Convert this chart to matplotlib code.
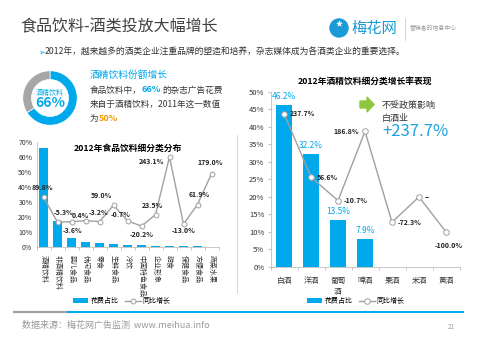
import matplotlib
matplotlib.use("Agg")
import matplotlib.pyplot as plt
from matplotlib.patches import Polygon, Ellipse
from matplotlib.lines import Line2D

plt.rcParams['font.family'] = ['Noto Sans CJK SC', 'DejaVu Sans']

# 数据
food_cats = ['酒精饮料', '非酒精饮料', '婴儿食品', '休闲食品', '零食', '生鲜食品', '冷饮',
             '中国特色食品', '企业形象', '甜食', '保健食品', '方便食品', '蔬菜水果']
food_share = [66.0, 17.3, 5.9, 3.6, 2.8, 2.0, 1.4, 1.4, 0.9, 0.5, 0.4, 0.4, 0.2]
food_growth = [89.8, -5.3, -3.6, 0.4, -3.2, 59.0, -0.7, -20.2, 23.5, 243.1, -13.0, 61.9, 179.0]

wine_cats = ['白酒', '洋酒', '葡萄\n酒', '啤酒', '果酒', '米酒', '黄酒']
wine_share = [46.2, 32.2, 13.5, 7.9, 0.1, 0.0, 0.0]
wine_growth = [237.7, 56.6, -10.7, 186.8, -72.3, 0.0, -100.0]
wine_growth_text = ['237.7%', '56.6%', '-10.7%', '186.8%', '-72.3%', '--', '-100.0%']

donut_vals = [66, 34]

BLUE = '#00a9ec'
GRAY = '#a6a6a6'

W, H = 480, 343
def fx(x):
    return x / W
def fy(y):
    return 1 - y / H

fig = plt.figure(figsize=(4.8, 3.43), dpi=100)
fig.patch.set_facecolor('white')

# 标题和logo
fig.text(fx(20), fy(27), '食品饮料-酒类投放大幅增长', fontsize=11.5, color='#404040', va='center')
fig.add_artist(Ellipse((fx(339), fy(28)), 18 / W, 18 / H, color='#1a9ad6', transform=fig.transFigure))
fig.text(fx(339), fy(28), '*', fontsize=10, color='white', ha='center', va='center', fontweight='bold')
fig.text(fx(351), fy(28), '梅花网', fontsize=11, color='#1a9ad6', va='center')
fig.add_artist(Line2D([fx(405), fx(405)], [fy(18), fy(40)], color='#cccccc', lw=0.6))
fig.text(fx(410), fy(28), '营销者的信息中心', fontsize=4.2, color='#999999', va='center')

fig.text(fx(38), fy(52), '➢', fontsize=6, color=BLUE, va='center', family=['DejaVu Sans'])
fig.text(fx(45), fy(52), '2012年，越来越多的酒类企业注重品牌的塑造和培养，杂志媒体成为各酒类企业的重要选择。',
         fontsize=6.3, color='#333333', va='center')

# 环形图
dax = fig.add_axes([fx(50 - 34), fy(98 + 34), 68 / W, 68 / H])
dax.pie(donut_vals, startangle=90, counterclock=False, colors=[BLUE, GRAY],
        wedgeprops=dict(width=0.32, edgecolor='white', linewidth=0.5))
dax.set_aspect('equal')
dax.text(0, 0.17, '酒精饮料', fontsize=5, color=BLUE, ha='center', va='center')
dax.text(0, -0.2, '66%', fontsize=10, color=BLUE, ha='center', va='center', fontweight='bold')

fig.text(fx(90), fy(75), '酒精饮料份额增长', fontsize=7, color=BLUE, va='center')
fig.text(fx(90), fy(90), '食品饮料中，', fontsize=6.2, color='#333333', va='center')
fig.text(fx(142), fy(90), '66%', fontsize=6.4, color=BLUE, va='center', fontweight='bold')
fig.text(fx(162), fy(90), '的杂志广告花费', fontsize=6.2, color='#333333', va='center')
fig.text(fx(90), fy(104), '来自于酒精饮料，2011年这一数值', fontsize=6.2, color='#333333', va='center')
fig.text(fx(90), fy(118), '为', fontsize=6.2, color='#333333', va='center')
fig.text(fx(99), fy(118), '50%', fontsize=6.4, color='#f39800', va='center', fontweight='bold')

# 左图
ax1 = fig.add_axes([fx(36.5), fy(247), 182 / W, 105 / H])
x1 = list(range(len(food_cats)))
bars1 = ax1.bar(x1, food_share, width=0.64, color=BLUE)
ax1.set_xlim(-0.5, len(food_cats) - 0.5)
ax1.set_ylim(0, 70)
ax1.set_yticks(range(0, 71, 10))
ax1.set_yticklabels(['{}%'.format(v) for v in range(0, 71, 10)], fontsize=5, color='#333333')
ax1.set_xticks(x1)
ax1.set_xticklabels(food_cats, rotation=-90, fontsize=5, color='#333333', va='top')
ax1.set_xticks([i - 0.5 for i in range(len(food_cats) + 1)], minor=True)
ax1.tick_params(axis='x', which='major', length=0, pad=6)
ax1.tick_params(axis='x', which='minor', length=2.5, color='#bfbfbf')
ax1.tick_params(axis='y', length=0, pad=3)
for s in ['top', 'right']:
    ax1.spines[s].set_visible(False)
ax1.spines['left'].set_color('#bfbfbf')
ax1.spines['bottom'].set_color('#bfbfbf')
ax1.spines['left'].set_linewidth(0.6)
ax1.spines['bottom'].set_linewidth(0.6)

t1 = ax1.twinx()
t1.set_ylim(-100, 300)
line1, = t1.plot(x1, food_growth, color='#a0a0a0', lw=1, marker='o', ms=3.5,
                 mfc='white', mec='#a0a0a0', mew=0.7)
t1.axis('off')
off1 = [(-1, 7), (4, 7), (1, -6.5), (-4, 3.5), (-0.5, 6.5), (-9, 7), (-5, 4.5), (0, -6),
        (-2, 6.5), (-13, -3), (0, -4.5), (1, 7), (-1, 8)]
for xi, v, o in zip(x1, food_growth, off1):
    t1.annotate('{:.1f}%'.format(v), (xi, v), xytext=o, textcoords='offset points',
                fontsize=5, fontweight='bold', ha='center', va='center', color='#222222')
ax1.set_title('2012年食品饮料细分类分布', fontsize=6.3, fontweight='bold', pad=-4, y=0.97)
ax1.legend([bars1, line1], ['花费占比', '同比增长'], loc='center', ncol=2,
           bbox_to_anchor=(fx(122), fy(301)), bbox_transform=fig.transFigure,
           frameon=False, fontsize=5, handlelength=2.2, handletextpad=0.3, columnspacing=1)
fig.add_artist(Line2D([fx(237), fx(237)], [fy(135), fy(293)], color='#d0d0d0', lw=0.6))

# 右图
ax2 = fig.add_axes([fx(270.5), fy(267), 189 / W, 175.3 / H])
x2 = list(range(len(wine_cats)))
bars2 = ax2.bar(x2, wine_share, width=0.56, color=BLUE)
ax2.set_xlim(-0.5, len(wine_cats) - 0.5)
ax2.set_ylim(0, 50)
ax2.set_yticks(range(0, 51, 5))
ax2.set_yticklabels(['{}%'.format(v) for v in range(0, 51, 5)], fontsize=5.5, color='#333333')
ax2.set_xticks(x2)
ax2.set_xticklabels(wine_cats, fontsize=5.5, color='#333333', va='top', linespacing=1.6)
ax2.set_xticks([i - 0.5 for i in range(len(wine_cats) + 1)], minor=True)
ax2.tick_params(axis='x', which='major', length=0, pad=7)
ax2.tick_params(axis='x', which='minor', length=2.5, color='#bfbfbf')
ax2.tick_params(axis='y', length=2.5, color='#bfbfbf', pad=2)
for s in ['top', 'right']:
    ax2.spines[s].set_visible(False)
ax2.spines['left'].set_color('#bfbfbf')
ax2.spines['bottom'].set_color('#bfbfbf')
ax2.spines['left'].set_linewidth(0.6)
ax2.spines['bottom'].set_linewidth(0.6)
for xi, v in zip(x2[:4], wine_share[:4]):
    ax2.annotate('{}%'.format(v), (xi, v), xytext=(0, 6), textcoords='offset points',
                 fontsize=6, color=BLUE, ha='center', va='center')

t2 = ax2.twinx()
t2.set_ylim(-200, 300)
line2, = t2.plot(x2, wine_growth, color='#a0a0a0', lw=1, marker='o', ms=4,
                 mfc='white', mec='#a0a0a0', mew=0.7)
t2.axis('off')
off2 = [(4, 0, 'left'), (4, 0, 'left'), (4, 0, 'left'), (-4, 0, 'right'),
        (4, 0, 'left'), (4, 0, 'left'), (2, -10, 'center')]
for xi, v, s, o in zip(x2, wine_growth, wine_growth_text, off2):
    t2.annotate(s, (xi, v), xytext=o[:2], textcoords='offset points',
                fontsize=5, fontweight='bold', ha=o[2], va='center', color='#222222')
ax2.set_title('2012年酒精饮料细分类增长率表现', fontsize=6.3, fontweight='bold', pad=6)
ax2.legend([bars2, line2], ['花费占比', '同比增长'], loc='center', ncol=2,
           bbox_to_anchor=(fx(356), fy(301)), bbox_transform=fig.transFigure,
           frameon=False, fontsize=5, handlelength=2.2, handletextpad=0.3, columnspacing=1)

# 绿色箭头和说明
arrow = [(360, 101), (367, 101), (367, 97), (374, 104.5), (367, 112), (367, 108), (360, 108)]
fig.add_artist(Polygon([(fx(a), fy(b)) for a, b in arrow], closed=True,
                       color='#8dc63f', transform=fig.transFigure))
fig.text(fx(382), fy(105), '不受政策影响', fontsize=6.5, color='#333333', va='center')
fig.text(fx(382), fy(118), '白酒业', fontsize=6.5, color='#333333', va='center')
fig.text(fx(382), fy(132), '+237.7%', fontsize=12, color='#1aa3dd', va='center')

# 底部
fig.add_artist(Line2D([fx(14), fx(68)], [fy(312), fy(312)], color='#a0a0a0', lw=1.5))
fig.add_artist(Line2D([fx(68), fx(463)], [fy(312), fy(312)], color=BLUE, lw=1.5))
fig.text(fx(22), fy(325), '数据来源：梅花网广告监测  www.meihua.info', fontsize=6.5, color='#999999', va='center')
fig.text(fx(448), fy(327), '21', fontsize=4.5, color='#999999', va='center')

plt.savefig('out.png', dpi=100)
